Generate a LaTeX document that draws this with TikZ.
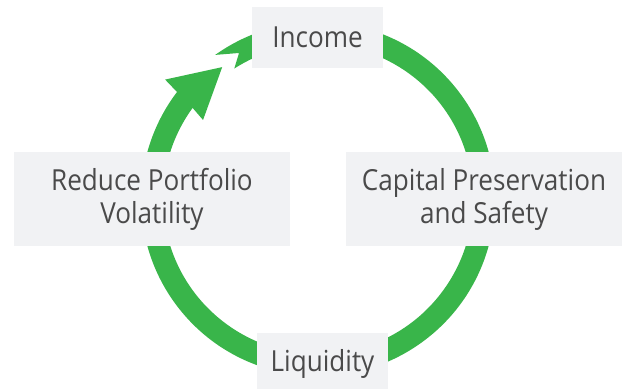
\documentclass[tikz,border=0pt]{standalone}
\usepackage{fontspec}
\setmainfont{Open Sans}[FakeStretch=0.9]
\usepackage{tikz}
\usetikzlibrary{positioning}
\definecolor{cyclegreen}{HTML}{39B54A}
\definecolor{boxgray}{HTML}{F1F2F4}
\definecolor{labelgray}{HTML}{4A4A4A}

\begin{document}
\begin{tikzpicture}[x=1pt,y=1pt]
% Style definitions
\tikzset{
    goal/.style={fill=boxgray, text=labelgray, align=center, inner sep=0pt,
                 font=\fontsize{29}{33}\selectfont},
    shortbox/.style={goal, minimum width=131pt, minimum height=61pt},
    widebox/.style={goal, minimum width=276pt, minimum height=94pt}
}
\useasboundingbox (0,0) rectangle (626,388);

% Circular arrow with notched tail
\coordinate (centre) at (318,189);
\fill[cyclegreen, shift={(centre)}]
    (125.5:177) arc[start angle=125.5, end angle=-217.2, radius=177]
    -- (-218:194) -- (-234:163) -- (-214.5:139.5) -- (-216:155)
    arc[start angle=-216, end angle=122.7, radius=155]
    -- (118.4:166) -- cycle;

% Boxes on top of the ring
\node[shortbox] (income) at (317.5,350.5) {Income};
\node[widebox] (volatility) at (152,189) {Reduce Portfolio\\Volatility};
\node[widebox] (capital) at (484,189) {Capital Preservation\\and Safety};
\node[shortbox] (liquidity) at (322.5,24.5) {Liquidity};

\end{tikzpicture}
\end{document}
